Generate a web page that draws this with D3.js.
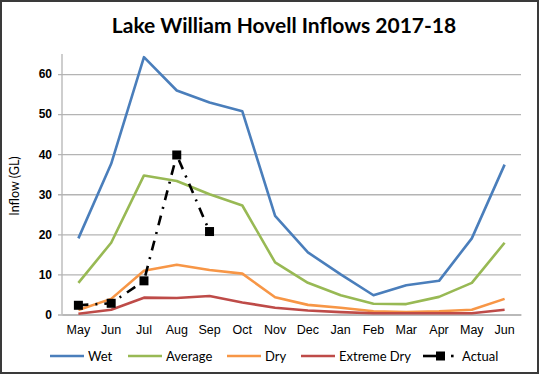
<!DOCTYPE html>
<html>
<head>
<meta charset="utf-8">
<script src="https://cdn.jsdelivr.net/npm/d3@7"></script>
<style>
  body { margin: 0; background: #fff; }
  svg { font-family: Lato, "Open Sans", sans-serif; }
</style>
</head>
<body>
<div class="chart"></div>
<script>
const months = ["May", "Jun", "Jul", "Aug", "Sep", "Oct", "Nov", "Dec", "Jan", "Feb", "Mar", "Apr", "May ", "Jun "];
const monthLabels = ["May", "Jun", "Jul", "Aug", "Sep", "Oct", "Nov", "Dec", "Jan", "Feb", "Mar", "Apr", "May", "Jun"];
const yTicks = [0, 10, 20, 30, 40, 50, 60];

const wet = [19, 37.6, 64.2, 55.9, 52.9, 50.7, 24.6, 15.5, 10, 4.8, 7.3, 8.4, 19, 37.4];
const average = [7.9, 17.9, 34.7, 33.3, 30, 27.2, 13, 7.9, 4.8, 2.7, 2.6, 4.4, 7.9, 17.9];
const dry = [1.1, 3.9, 10.9, 12.4, 11.1, 10.2, 4.3, 2.4, 1.7, 0.8, 0.6, 0.8, 1.2, 3.9];
const extremeDry = [0.2, 1.2, 4.2, 4.1, 4.6, 3, 1.7, 1, 0.6, 0.3, 0.3, 0.3, 0.3, 1.2];
const actual = [2.3, 2.8, 8.4, 39.8, 20.7];

const seriesNames = ["Wet", "Average", "Dry", "Extreme Dry", "Actual"];
const seriesColors = ["#4a7ebb", "#98b954", "#f79646", "#be4b48", "#000000"];

const W = 541, H = 377;
const plot = { left: 62, right: 521, top: 54, bottom: 314.5 };

const svg = d3.select(".chart").append("svg")
	.attr("width", W)
	.attr("height", H);

svg.append("rect")
	.attr("x", 1).attr("y", 1)
	.attr("width", 537).attr("height", 372)
	.attr("fill", "#fff")
	.attr("stroke", "#3a3a3a")
	.attr("stroke-width", 2);

// title
svg.append("text")
	.attr("x", 284).attr("y", 33)
	.attr("text-anchor", "middle")
	.style("font-size", "21px")
	.style("font-weight", "bold")
	.text("Lake William Hovell Inflows 2017-18");

// scales
const x = d3.scaleBand().domain(months).range([plot.left, plot.right]);
const y = d3.scaleLinear().domain([0, 65]).range([plot.bottom, plot.top]);
const cx = (i) => x(months[i]) + x.bandwidth() / 2;

// gridlines + y axis
const yAxis = svg.append("g")
	.attr("transform", `translate(${plot.left},0)`)
	.call(d3.axisLeft(y).tickValues(yTicks).tickSize(-(plot.right - plot.left)).tickSizeOuter(0).tickPadding(10));
yAxis.select(".domain").remove();
yAxis.selectAll(".tick line")
	.attr("x1", -4)
	.attr("stroke", "#b4b4b4")
	.attr("stroke-width", 1.3);
yAxis.selectAll(".tick text")
	.style("font-size", "12px")
	.style("font-weight", "bold")
	.attr("fill", "#000");

svg.append("line")
	.attr("x1", plot.left).attr("x2", plot.left)
	.attr("y1", plot.top).attr("y2", plot.bottom)
	.attr("stroke", "#b4b4b4")
	.attr("stroke-width", 1.3);

// x axis
const xAxis = svg.append("g")
	.attr("transform", `translate(0,${plot.bottom})`)
	.call(d3.axisBottom(x).tickSize(0).tickPadding(11).tickFormat((d, i) => monthLabels[i]));
xAxis.select(".domain").attr("stroke", "#b4b4b4").attr("stroke-width", 1.3);
xAxis.selectAll(".tick text")
	.style("font-size", "12.5px")
	.attr("fill", "#000");

// axis title
svg.append("text")
	.attr("transform", "translate(19,186) rotate(-90)")
	.attr("text-anchor", "middle")
	.style("font-size", "12.5px")
	.text("Inflow (GL)");

// lines
const line = d3.line()
	.x((d, i) => cx(i))
	.y((d) => y(d));

[wet, average, dry, extremeDry].forEach((values, k) => {
	svg.append("path")
		.datum(values)
		.attr("d", line)
		.attr("fill", "none")
		.attr("stroke", seriesColors[k])
		.attr("stroke-width", 2.6)
		.attr("stroke-linejoin", "round");
});

svg.append("path")
	.datum(actual)
	.attr("d", line)
	.attr("fill", "none")
	.attr("stroke", "#000")
	.attr("stroke-width", 2.6)
	.attr("stroke-dasharray", "10,7,2,7");

svg.selectAll(".actual-mark")
	.data(actual).enter()
	.append("rect")
	.attr("class", "actual-mark")
	.attr("x", (d, i) => cx(i) - 4.5)
	.attr("y", (d) => y(d) - 4.5)
	.attr("width", 9)
	.attr("height", 9)
	.attr("fill", "#000");

// legend
const legendX = [50, 128, 227, 301, 423];
const legend = svg.append("g")
	.selectAll(".legend-item")
		.data(seriesNames).enter()
	.append("g")
		.attr("class", "legend-item")
		.attr("transform", (d, i) => `translate(${legendX[i]},356)`);

legend.filter((d, i) => i < 4)
	.append("line")
	.attr("x1", 0).attr("x2", 34)
	.attr("stroke", (d, i) => seriesColors[i])
	.attr("stroke-width", 2.6);

const actualKey = legend.filter((d, i) => i === 4);
actualKey.append("line")
	.attr("x1", 0).attr("x2", 20)
	.attr("stroke", "#000")
	.attr("stroke-width", 2.6);
actualKey.append("rect")
	.attr("x", 13).attr("y", -4.5)
	.attr("width", 9).attr("height", 9)
	.attr("fill", "#000");
actualKey.append("rect")
	.attr("x", 28).attr("y", -1.3)
	.attr("width", 2.6).attr("height", 2.6)
	.attr("fill", "#000");

legend.append("text")
	.attr("x", (d, i) => i === 4 ? 39 : 38)
	.attr("dy", "0.35em")
	.style("font-size", "13px")
	.text((d) => d);
</script>
</body>
</html>
